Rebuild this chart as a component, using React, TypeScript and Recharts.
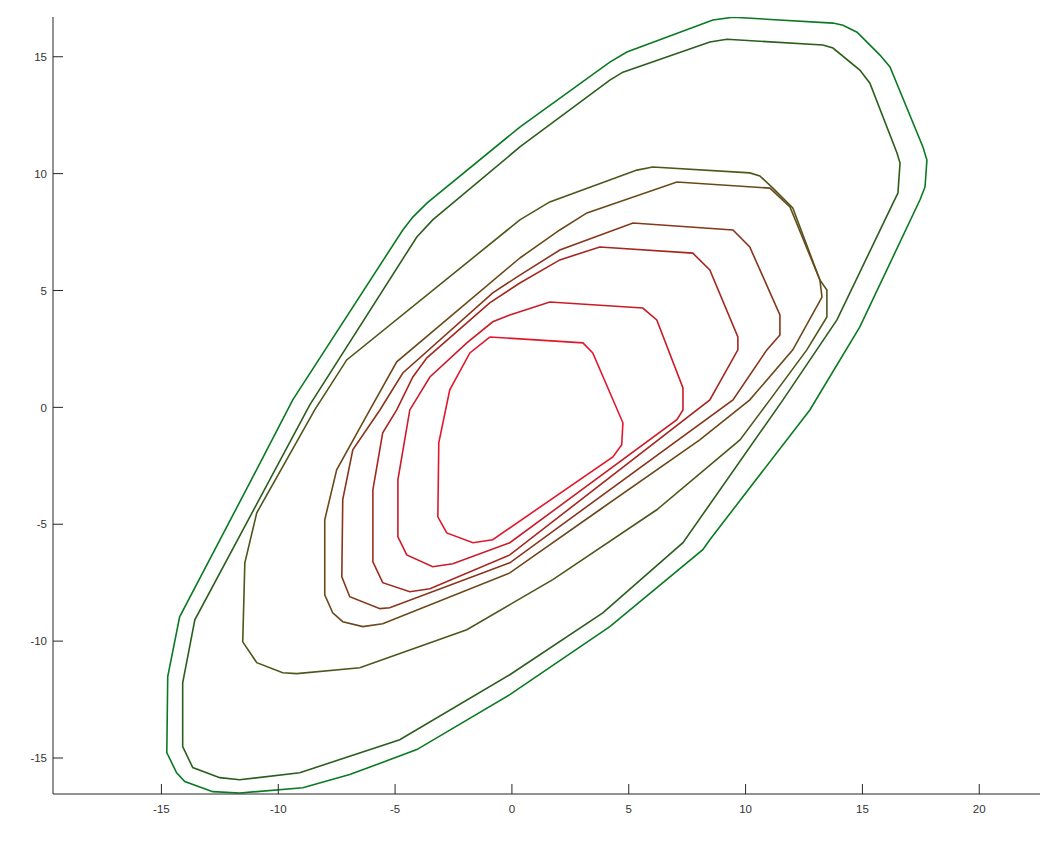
import { LineChart, Line, XAxis, YAxis } from 'recharts';

// contour levels, outermost (green) to innermost (red)
const contour1: [number, number][] = [
  [9.46, 16.69], [13.74, 16.44], [14.17, 16.35], [14.77, 16.05], [15.75, 15.07], [16.18, 14.56],
  [17.59, 11.14], [17.76, 10.58], [17.68, 9.43], [17.46, 8.87], [14.89, 3.44], [12.75, -0.11],
  [8.47, -5.66], [8.17, -6.09], [4.19, -9.38], [-0.09, -12.29], [-4.07, -14.64], [-6.94, -15.71],
  [-8.95, -16.27], [-11.65, -16.5], [-12.8, -16.44], [-14.0, -16.01], [-14.35, -15.63],
  [-14.77, -14.77], [-14.73, -11.52], [-14.22, -8.96], [-11.22, -3.23], [-9.38, 0.32],
  [-4.67, 7.59], [-4.24, 8.14], [-3.64, 8.74], [0.34, 11.99], [4.19, 14.77], [4.92, 15.2],
  [8.6, 16.57], [9.46, 16.69],
];

const contour2: [number, number][] = [
  [0.34, 11.14], [4.19, 14.0], [4.75, 14.34], [8.47, 15.63], [9.2, 15.75], [13.31, 15.5],
  [13.74, 15.37], [14.89, 14.43], [15.32, 13.87], [16.48, 10.88], [16.61, 10.45], [16.52, 9.17],
  [16.31, 8.74], [13.91, 3.74], [11.6, 0.32], [7.32, -5.79], [3.89, -8.79], [-0.09, -11.44],
  [-4.8, -14.22], [-9.08, -15.63], [-11.65, -15.93], [-12.5, -15.84], [-13.66, -15.41],
  [-14.09, -14.51], [-14.09, -11.78], [-13.57, -9.09], [-8.65, 0.11], [-4.07, 7.29],
  [-3.39, 8.02], [0.34, 11.14],
];

const contour3: [number, number][] = [
  [0.34, 8.02], [1.62, 8.79], [5.35, 10.15], [6.03, 10.28], [10.18, 10.03], [10.61, 9.9],
  [11.17, 9.38], [12.02, 8.53], [13.18, 5.45], [13.48, 5.02], [13.48, 3.87], [12.62, 2.46],
  [11.04, 0.32], [9.76, -1.39], [6.2, -4.38], [1.75, -7.37], [-0.09, -8.44], [-1.93, -9.51],
  [-6.51, -11.14], [-9.21, -11.39], [-9.81, -11.35], [-10.92, -10.92], [-11.52, -10.03],
  [-11.43, -6.65], [-10.92, -4.51], [-8.44, -0.11], [-7.07, 2.03], [0.34, 8.02],
];

const contour4: [number, number][] = [
  [0.34, 6.39], [2.05, 7.59], [3.21, 8.32], [7.06, 9.64], [11.04, 9.38], [11.9, 8.57],
  [13.18, 5.45], [13.27, 4.72], [12.02, 2.46], [10.18, 0.32], [8.04, -1.39], [3.76, -4.38],
  [-0.09, -7.08], [-5.53, -9.26], [-6.38, -9.38], [-7.24, -9.17], [-7.67, -8.79],
  [-8.01, -8.02], [-8.01, -4.81], [-7.5, -2.67], [-6.08, -0.11], [-4.93, 1.95], [0.34, 6.39],
];

const contour5: [number, number][] = [
  [0.34, 5.66], [2.05, 6.73], [5.18, 7.89], [9.46, 7.59], [10.18, 6.86], [11.47, 3.95],
  [11.47, 3.1], [10.91, 2.46], [9.46, 0.32], [-0.09, -6.65], [-5.23, -8.57], [-5.65, -8.61],
  [-6.94, -8.1], [-7.28, -7.25], [-7.24, -3.95], [-6.81, -1.82], [-5.65, -0.11],
  [-4.67, 1.47], [-0.82, 4.9], [0.34, 5.66],
];

const contour6: [number, number][] = [
  [0.34, 5.32], [2.05, 6.31], [3.76, 6.86], [7.74, 6.6], [8.47, 5.88], [9.67, 3.01],
  [9.67, 2.46], [8.47, 0.32], [-0.09, -6.31], [-3.51, -7.76], [-4.37, -7.89], [-5.53, -7.5],
  [-5.95, -6.61], [-5.95, -3.53], [-5.53, -1.09], [-4.93, -0.11], [-4.24, 1.3], [-3.64, 2.12],
  [-0.95, 4.47], [0.34, 5.32],
];

const contour7: [number, number][] = [
  [-0.09, 3.95], [1.62, 4.51], [5.6, 4.25], [6.2, 3.74], [7.32, 0.83], [7.32, -0.11],
  [7.06, -0.53], [-0.09, -5.79], [-2.53, -6.69], [-3.39, -6.82], [-4.5, -6.31], [-4.88, -5.54],
  [-4.88, -3.1], [-4.37, -0.11], [-3.51, 1.3], [-1.93, 2.76], [-0.82, 3.66], [-0.09, 3.95],
];

const contour8: [number, number][] = [
  [-0.95, 3.01], [3.04, 2.76], [3.46, 2.33], [4.75, -0.66], [4.7, -1.6], [4.32, -2.12],
  [-0.82, -5.66], [-1.67, -5.79], [-2.79, -5.37], [-3.17, -4.68], [-3.13, -1.52],
  [-2.66, 0.75], [-1.8, 2.33], [-0.95, 3.01],
];

const contours = [contour1, contour2, contour3, contour4, contour5, contour6, contour7, contour8];
const levelColors = ['#0a7a22', '#2a5e1c', '#4f561b', '#6b4819', '#86361a', '#a4281f', '#c91c27', '#e2172b'];

const xTicks = [-15, -10, -5, 0, 5, 10, 15, 20];
const yTicks = [-15, -10, -5, 0, 5, 10, 15];

const axisColor = '#262626';
const tickFont = '"Liberation Sans", Arial, Helvetica, sans-serif';

function XTick(props: any) {
  const { x, y, payload } = props;
  return (
    <g>
      <line x1={x} y1={y} x2={x} y2={y - 10} stroke={axisColor} strokeWidth={1} />
      <text x={x} y={y + 19} textAnchor="middle" fontSize={11.5} fontFamily={tickFont} fill="#333">
        {payload.value}
      </text>
    </g>
  );
}

function YTick(props: any) {
  const { x, y, payload } = props;
  return (
    <g>
      <line x1={x} y1={y} x2={x + 10} y2={y} stroke={axisColor} strokeWidth={1} />
      <text x={x - 6} y={y} dy="0.36em" textAnchor="end" fontSize={11.5} fontFamily={tickFont} fill="#333">
        {payload.value}
      </text>
    </g>
  );
}

export default function App() {
  return (
    <div style={{ position: 'absolute', left: 0, top: 0, width: 1051, height: 842, background: '#fff' }}>
      <LineChart width={1051} height={842} margin={{ top: 17, right: 11, bottom: 18, left: 0 }}>
        <XAxis
          type="number"
          dataKey="x"
          domain={[-19.64, 22.6]}
          ticks={xTicks}
          allowDataOverflow
          height={30}
          tickSize={0}
          tickMargin={0}
          tickLine={false}
          axisLine={{ stroke: axisColor, strokeWidth: 1 }}
          tick={<XTick />}
          interval={0}
        />
        <YAxis
          type="number"
          dataKey="y"
          domain={[-16.54, 16.7]}
          ticks={yTicks}
          allowDataOverflow
          width={53}
          tickSize={0}
          tickMargin={0}
          tickLine={false}
          axisLine={{ stroke: axisColor, strokeWidth: 1 }}
          tick={<YTick />}
          interval={0}
        />
        {contours.map((c, i) => (
          <Line
            key={i}
            data={c.map(([x, y]) => ({ x, y }))}
            dataKey="y"
            type="linear"
            stroke={levelColors[i]}
            strokeWidth={1.6}
            dot={false}
            activeDot={false}
            isAnimationActive={false}
          />
        ))}
      </LineChart>
    </div>
  );
}
